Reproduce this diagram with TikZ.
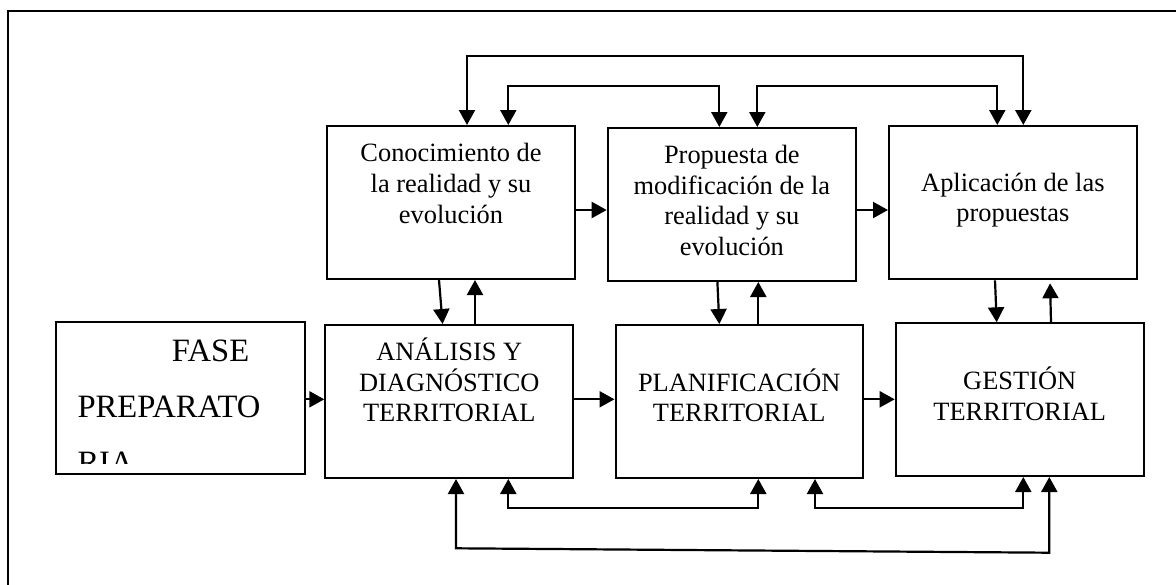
\documentclass[tikz,border=0pt]{standalone}
\usepackage{fontspec}
\setmainfont{Liberation Serif}
\usetikzlibrary{arrows.meta}
\begin{document}
\begin{tikzpicture}[x=1pt,y=-1pt,
  box/.style={draw,line width=2pt,inner sep=0pt,rectangle},
  txt/.style={anchor=base,inner sep=0pt,font=\fontsize{26.4}{31}\selectfont},
  big/.style={anchor=base west,inner sep=0pt,font=\fontsize{32.6}{38}\selectfont},
  arr/.style={line width=2.2pt,-{Triangle[width=16pt,length=15pt]}},
  arrb/.style={line width=2.2pt,{Triangle[width=16pt,length=15pt]}-{Triangle[width=16pt,length=15pt]}},
  frame/.style={line width=1.6pt}]
\useasboundingbox (0,0) rectangle (1176,584);
\clip (0,0) rectangle (1176,584);
\fill[white] (0,0) rectangle (1176,584);
% outer frame (right and bottom sides fall outside the picture)
\draw[frame] (8,11) rectangle (1200,620);

% boxes
\node[box,minimum width=248.5pt,minimum height=152pt] (fase) at (180.25,398) {};
\node[box,minimum width=248pt,minimum height=153pt] (conoc) at (451,202.5) {};
\node[box,minimum width=248.3pt,minimum height=153pt] (prop) at (731.85,204.5) {};
\node[box,minimum width=247.7pt,minimum height=153.3pt] (apl) at (1012.85,202.65) {};
\node[box,minimum width=248pt,minimum height=153pt] (anal) at (449.3,401.5) {};
\node[box,minimum width=247.5pt,minimum height=153pt] (plan) at (739.25,401.5) {};
\node[box,minimum width=248pt,minimum height=152.7pt] (gest) at (1019.7,399.65) {};

% texts
\node[big] (f1) at (171.7,361.7) {FASE};
\node[big] (f2) at (77.3,417.3) {PREPARATO};
\begin{scope}
\clip (57,323) rectangle (303.5,463.3);
\node[big] (f3) at (77.3,473) {RIA};
\end{scope}

\node[txt] (c1) at (451,161) {Conocimiento de};
\node[txt] (c2) at (451,192) {la realidad y su};
\node[txt] (c3) at (451,223) {evolución};

\node[txt] (p1) at (731.85,163.5) {Propuesta de};
\node[txt] (p2) at (731.85,194) {modificación de la};
\node[txt] (p3) at (731.85,224.5) {realidad y su};
\node[txt] (p4) at (731.85,255.5) {evolución};

\node[txt] (a1) at (1012.85,191.7) {Aplicación de las};
\node[txt] (a2) at (1012.85,221.7) {propuestas};

\node[txt] (n1) at (449.3,360) {ANÁLISIS Y};
\node[txt] (n2) at (449.3,391) {DIAGNÓSTICO};
\node[txt] (n3) at (449.3,421) {TERRITORIAL};

\node[txt] (l1) at (739.25,391) {PLANIFICACIÓN};
\node[txt] (l2) at (739.25,421) {TERRITORIAL};

\node[txt] (g1) at (1019.7,389.3) {GESTIÓN};
\node[txt] (g2) at (1019.7,420) {TERRITORIAL};

% horizontal arrows
\draw[arr] (fase.east |- 0,399.3) -- (anal.west |- 0,399.3);
\draw[arr] (anal.east |- 0,399.3) -- (plan.west |- 0,399.3);
\draw[arr] (plan.east |- 0,399.3) -- (gest.west |- 0,399.3);
\draw[arr] (conoc.east |- 0,210) -- (prop.west |- 0,210);
\draw[arr] (prop.east |- 0,210) -- (apl.west |- 0,210);

% vertical arrows between rows
\draw[arr] (conoc.south -| 439,0) -- (anal.north -| 442.6,0);
\draw[arr] (anal.north -| 475,0) -- (conoc.south -| 475,0);
\draw[arr] (prop.south -| 717.4,0) -- (plan.north -| 719.3,0);
\draw[arr] (plan.north -| 758.3,0) -- (prop.south -| 758.3,0);
\draw[arr] (apl.south -| 995,0) -- (gest.north -| 996.7,0);
\draw[arr,shorten >=3pt] (gest.north -| 1051,0) -- (apl.south -| 1050,0);

% top feedback connectors
\draw[arrb] (conoc.north -| 467,0) -- (467,55.7) -- (1023.3,55.7) -- (apl.north -| 1023.3,0);
\draw[arrb] (conoc.north -| 508.3,0) -- (508.3,86) -- (719.3,86) -- (prop.north -| 719.3,0);
\draw[arrb] (prop.north -| 757.3,0) -- (757.3,86) -- (997.3,86) -- (apl.north -| 997.3,0);

% bottom feedback connectors
\draw[arrb] (anal.south -| 456,0) -- (456,548.3) -- (1049.3,552.7) -- (gest.south -| 1049.3,0);
\draw[arrb] (anal.south -| 508.3,0) -- (508.3,508.3) -- (758.3,508.3) -- (plan.south -| 758.3,0);
\draw[arrb] (plan.south -| 815,0) -- (815,508.3) -- (1023.3,508.3) -- (gest.south -| 1023.3,0);
\end{tikzpicture}
\end{document}
